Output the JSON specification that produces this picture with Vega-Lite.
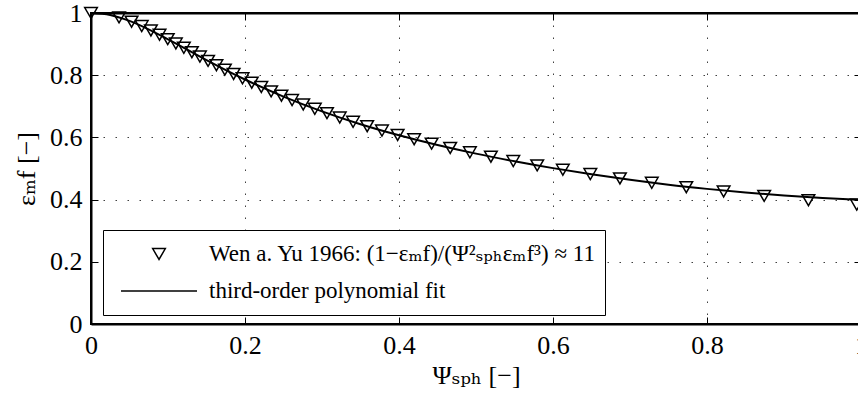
{
  "$schema": "https://vega.github.io/schema/vega-lite/v6.json",
  "autosize": {"type": "none"},
  "padding": {"left": 91, "top": 13, "right": 0, "bottom": 72},
  "width": 770,
  "height": 311,
  "background": "white",
  "view": {"stroke": "black", "strokeWidth": 2},
  "config": {
    "font": "'Liberation Serif', 'DejaVu Serif', serif",
    "axis": {
      "domainColor": "black", "domainWidth": 2,
      "tickColor": "black", "tickWidth": 1, "tickSize": -7,
      "labelFont": "'Liberation Serif', 'DejaVu Serif', serif", "labelFontSize": 26, "labelColor": "black",
      "titleFont": "'Liberation Serif', 'DejaVu Serif', serif", "titleFontSize": 26, "titleFontWeight": "normal", "titleColor": "black",
      "gridColor": "black", "gridDash": [1.5, 10.5], "gridOpacity": 0.75, "gridWidth": 1
    },
    "legend": {"labelFont": "'Liberation Serif', 'DejaVu Serif', serif"}
  },
  "data": {"values": [
    {"psi": 0, "eps": 1.0, "series": "Wen a. Yu 1966: (1−εₘf)/(Ψ²ₛₚₕεₘf³) ≈ 11"},
    {"psi": 0.03644, "eps": 0.986, "series": "Wen a. Yu 1966: (1−εₘf)/(Ψ²ₛₚₕεₘf³) ≈ 11"},
    {"psi": 0.05265, "eps": 0.972, "series": "Wen a. Yu 1966: (1−εₘf)/(Ψ²ₛₚₕεₘf³) ≈ 11"},
    {"psi": 0.06590, "eps": 0.958, "series": "Wen a. Yu 1966: (1−εₘf)/(Ψ²ₛₚₕεₘf³) ≈ 11"},
    {"psi": 0.07779, "eps": 0.944, "series": "Wen a. Yu 1966: (1−εₘf)/(Ψ²ₛₚₕεₘf³) ≈ 11"},
    {"psi": 0.08895, "eps": 0.930, "series": "Wen a. Yu 1966: (1−εₘf)/(Ψ²ₛₚₕεₘf³) ≈ 11"},
    {"psi": 0.09968, "eps": 0.916, "series": "Wen a. Yu 1966: (1−εₘf)/(Ψ²ₛₚₕεₘf³) ≈ 11"},
    {"psi": 0.11018, "eps": 0.902, "series": "Wen a. Yu 1966: (1−εₘf)/(Ψ²ₛₚₕεₘf³) ≈ 11"},
    {"psi": 0.12059, "eps": 0.888, "series": "Wen a. Yu 1966: (1−εₘf)/(Ψ²ₛₚₕεₘf³) ≈ 11"},
    {"psi": 0.13098, "eps": 0.874, "series": "Wen a. Yu 1966: (1−εₘf)/(Ψ²ₛₚₕεₘf³) ≈ 11"},
    {"psi": 0.14146, "eps": 0.860, "series": "Wen a. Yu 1966: (1−εₘf)/(Ψ²ₛₚₕεₘf³) ≈ 11"},
    {"psi": 0.15206, "eps": 0.846, "series": "Wen a. Yu 1966: (1−εₘf)/(Ψ²ₛₚₕεₘf³) ≈ 11"},
    {"psi": 0.16284, "eps": 0.832, "series": "Wen a. Yu 1966: (1−εₘf)/(Ψ²ₛₚₕεₘf³) ≈ 11"},
    {"psi": 0.17387, "eps": 0.818, "series": "Wen a. Yu 1966: (1−εₘf)/(Ψ²ₛₚₕεₘf³) ≈ 11"},
    {"psi": 0.18516, "eps": 0.804, "series": "Wen a. Yu 1966: (1−εₘf)/(Ψ²ₛₚₕεₘf³) ≈ 11"},
    {"psi": 0.19678, "eps": 0.790, "series": "Wen a. Yu 1966: (1−εₘf)/(Ψ²ₛₚₕεₘf³) ≈ 11"},
    {"psi": 0.20875, "eps": 0.776, "series": "Wen a. Yu 1966: (1−εₘf)/(Ψ²ₛₚₕεₘf³) ≈ 11"},
    {"psi": 0.22114, "eps": 0.762, "series": "Wen a. Yu 1966: (1−εₘf)/(Ψ²ₛₚₕεₘf³) ≈ 11"},
    {"psi": 0.23397, "eps": 0.748, "series": "Wen a. Yu 1966: (1−εₘf)/(Ψ²ₛₚₕεₘf³) ≈ 11"},
    {"psi": 0.24729, "eps": 0.734, "series": "Wen a. Yu 1966: (1−εₘf)/(Ψ²ₛₚₕεₘf³) ≈ 11"},
    {"psi": 0.26115, "eps": 0.720, "series": "Wen a. Yu 1966: (1−εₘf)/(Ψ²ₛₚₕεₘf³) ≈ 11"},
    {"psi": 0.27559, "eps": 0.706, "series": "Wen a. Yu 1966: (1−εₘf)/(Ψ²ₛₚₕεₘf³) ≈ 11"},
    {"psi": 0.29068, "eps": 0.692, "series": "Wen a. Yu 1966: (1−εₘf)/(Ψ²ₛₚₕεₘf³) ≈ 11"},
    {"psi": 0.30647, "eps": 0.678, "series": "Wen a. Yu 1966: (1−εₘf)/(Ψ²ₛₚₕεₘf³) ≈ 11"},
    {"psi": 0.32301, "eps": 0.664, "series": "Wen a. Yu 1966: (1−εₘf)/(Ψ²ₛₚₕεₘf³) ≈ 11"},
    {"psi": 0.34038, "eps": 0.650, "series": "Wen a. Yu 1966: (1−εₘf)/(Ψ²ₛₚₕεₘf³) ≈ 11"},
    {"psi": 0.35865, "eps": 0.636, "series": "Wen a. Yu 1966: (1−εₘf)/(Ψ²ₛₚₕεₘf³) ≈ 11"},
    {"psi": 0.37789, "eps": 0.622, "series": "Wen a. Yu 1966: (1−εₘf)/(Ψ²ₛₚₕεₘf³) ≈ 11"},
    {"psi": 0.39819, "eps": 0.608, "series": "Wen a. Yu 1966: (1−εₘf)/(Ψ²ₛₚₕεₘf³) ≈ 11"},
    {"psi": 0.41965, "eps": 0.594, "series": "Wen a. Yu 1966: (1−εₘf)/(Ψ²ₛₚₕεₘf³) ≈ 11"},
    {"psi": 0.44237, "eps": 0.580, "series": "Wen a. Yu 1966: (1−εₘf)/(Ψ²ₛₚₕεₘf³) ≈ 11"},
    {"psi": 0.46647, "eps": 0.566, "series": "Wen a. Yu 1966: (1−εₘf)/(Ψ²ₛₚₕεₘf³) ≈ 11"},
    {"psi": 0.49208, "eps": 0.552, "series": "Wen a. Yu 1966: (1−εₘf)/(Ψ²ₛₚₕεₘf³) ≈ 11"},
    {"psi": 0.51934, "eps": 0.538, "series": "Wen a. Yu 1966: (1−εₘf)/(Ψ²ₛₚₕεₘf³) ≈ 11"},
    {"psi": 0.54842, "eps": 0.524, "series": "Wen a. Yu 1966: (1−εₘf)/(Ψ²ₛₚₕεₘf³) ≈ 11"},
    {"psi": 0.57949, "eps": 0.510, "series": "Wen a. Yu 1966: (1−εₘf)/(Ψ²ₛₚₕεₘf³) ≈ 11"},
    {"psi": 0.61277, "eps": 0.496, "series": "Wen a. Yu 1966: (1−εₘf)/(Ψ²ₛₚₕεₘf³) ≈ 11"},
    {"psi": 0.64848, "eps": 0.482, "series": "Wen a. Yu 1966: (1−εₘf)/(Ψ²ₛₚₕεₘf³) ≈ 11"},
    {"psi": 0.68690, "eps": 0.468, "series": "Wen a. Yu 1966: (1−εₘf)/(Ψ²ₛₚₕεₘf³) ≈ 11"},
    {"psi": 0.72831, "eps": 0.454, "series": "Wen a. Yu 1966: (1−εₘf)/(Ψ²ₛₚₕεₘf³) ≈ 11"},
    {"psi": 0.77307, "eps": 0.440, "series": "Wen a. Yu 1966: (1−εₘf)/(Ψ²ₛₚₕεₘf³) ≈ 11"},
    {"psi": 0.82157, "eps": 0.426, "series": "Wen a. Yu 1966: (1−εₘf)/(Ψ²ₛₚₕεₘf³) ≈ 11"},
    {"psi": 0.87427, "eps": 0.412, "series": "Wen a. Yu 1966: (1−εₘf)/(Ψ²ₛₚₕεₘf³) ≈ 11"},
    {"psi": 0.93170, "eps": 0.398, "series": "Wen a. Yu 1966: (1−εₘf)/(Ψ²ₛₚₕεₘf³) ≈ 11"},
    {"psi": 0.99448, "eps": 0.384, "series": "Wen a. Yu 1966: (1−εₘf)/(Ψ²ₛₚₕεₘf³) ≈ 11"},
    {"psi": 0.0, "eps": 1.0, "series": "third-order polynomial fit"},
    {"psi": 0.025, "eps": 0.9936, "series": "third-order polynomial fit"},
    {"psi": 0.05, "eps": 0.9746, "series": "third-order polynomial fit"},
    {"psi": 0.1, "eps": 0.9155, "series": "third-order polynomial fit"},
    {"psi": 0.15, "eps": 0.8487, "series": "third-order polynomial fit"},
    {"psi": 0.2, "eps": 0.7862, "series": "third-order polynomial fit"},
    {"psi": 0.25, "eps": 0.7312, "series": "third-order polynomial fit"},
    {"psi": 0.3, "eps": 0.6837, "series": "third-order polynomial fit"},
    {"psi": 0.35, "eps": 0.6425, "series": "third-order polynomial fit"},
    {"psi": 0.4, "eps": 0.6069, "series": "third-order polynomial fit"},
    {"psi": 0.45, "eps": 0.5755, "series": "third-order polynomial fit"},
    {"psi": 0.5, "eps": 0.5478, "series": "third-order polynomial fit"},
    {"psi": 0.55, "eps": 0.5233, "series": "third-order polynomial fit"},
    {"psi": 0.6, "eps": 0.5012, "series": "third-order polynomial fit"},
    {"psi": 0.65, "eps": 0.4814, "series": "third-order polynomial fit"},
    {"psi": 0.7, "eps": 0.4635, "series": "third-order polynomial fit"},
    {"psi": 0.75, "eps": 0.4478, "series": "third-order polynomial fit"},
    {"psi": 0.8, "eps": 0.4345, "series": "third-order polynomial fit"},
    {"psi": 0.85, "eps": 0.4228, "series": "third-order polynomial fit"},
    {"psi": 0.9, "eps": 0.4130, "series": "third-order polynomial fit"},
    {"psi": 0.95, "eps": 0.4050, "series": "third-order polynomial fit"},
    {"psi": 1.0, "eps": 0.3990, "series": "third-order polynomial fit"}
  ]},
  "layer": [
    {
      "transform": [{"filter": "datum.series === 'third-order polynomial fit'"}],
      "mark": {"type": "line", "color": "black", "strokeWidth": 2, "interpolate": "monotone"},
      "encoding": {
        "x": {"field": "psi", "type": "quantitative", "scale": {"domain": [0, 1], "nice": false},
              "axis": {"orient": "top", "values": [0, 0.2, 0.4, 0.6, 0.8, 1], "labels": false, "grid": false, "title": null}},
        "y": {"field": "eps", "type": "quantitative", "scale": {"domain": [0, 1], "nice": false},
              "axis": {"orient": "right", "values": [0, 0.2, 0.4, 0.6, 0.8, 1], "labels": false, "grid": false, "title": null}}
      }
    },
    {
      "transform": [{"filter": "datum.series !== 'third-order polynomial fit'"}],
      "mark": {"type": "point", "filled": false, "stroke": "black", "strokeWidth": 1.5, "opacity": 1},
      "encoding": {
        "x": {"field": "psi", "type": "quantitative",
              "axis": {"orient": "bottom", "values": [0, 0.2, 0.4, 0.6, 0.8, 1], "format": "~g", "labelFlush": false,
                       "labelPadding": 15, "grid": true, "title": "Ψₛₚₕ  [−]", "titlePadding": 4}},
        "y": {"field": "eps", "type": "quantitative",
              "axis": {"orient": "left", "values": [0, 0.2, 0.4, 0.6, 0.8, 1], "format": "~g",
                       "labelPadding": 16, "grid": true, "title": "εₘf  [−]", "titlePadding": 10}},
        "size": {"field": "series", "type": "nominal",
                 "scale": {"domain": ["Wen a. Yu 1966: (1−εₘf)/(Ψ²ₛₚₕεₘf³) ≈ 11", "third-order polynomial fit"], "range": [160, 5776]}},
        "shape": {"field": "series", "type": "nominal",
                  "scale": {"domain": ["Wen a. Yu 1966: (1−εₘf)/(Ψ²ₛₚₕεₘf³) ≈ 11", "third-order polynomial fit"], "range": ["triangle-down", "stroke"]},
                  "legend": {
                    "orient": "none", "legendX": 12, "legendY": 217, "title": null,
                    "strokeColor": "black", "fillColor": "white", "padding": 9,
                    "labelFontSize": 23, "labelColor": "black", "labelLimit": 0, "labelOffset": 11,
                    "symbolStrokeColor": "black", "symbolStrokeWidth": 1.5, "symbolFillColor": "transparent",
                    "symbolOffset": 8, "clipHeight": 30, "rowPadding": 7
                  }}
      }
    }
  ]
}
